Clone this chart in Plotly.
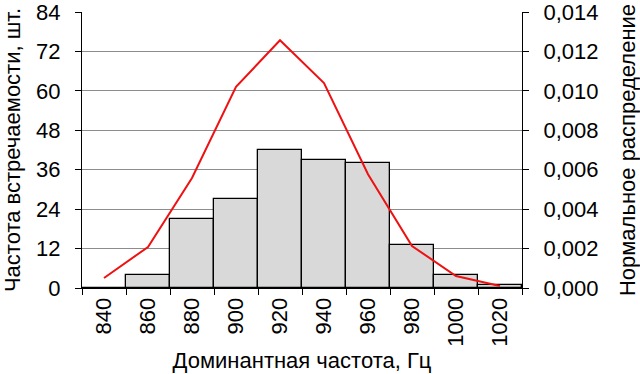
import plotly.graph_objects as go

categories = ["840", "860", "880", "900", "920", "940", "960", "980", "1000", "1020"]
counts = [0, 4, 21, 27, 42, 39, 38, 13, 4, 1]
normal_pdf = [0.00051, 0.00208, 0.00558, 0.0102, 0.01257, 0.0104, 0.00577, 0.00213, 0.00061, 0.0001]

FONT = "Liberation Sans, Arial, sans-serif"

fig = go.Figure()
fig.add_trace(go.Bar(
    x=categories, y=counts,
    marker=dict(color="#d9d9d9", line=dict(color="black", width=1.3)),
    width=1, showlegend=False,
))
fig.add_trace(go.Scatter(
    x=categories, y=normal_pdf, yaxis="y2", mode="lines",
    line=dict(color="#ee1111", width=2), showlegend=False,
))

fig.update_layout(
    width=640, height=374,
    margin=dict(l=82, r=118, t=12, b=86, autoexpand=False),
    paper_bgcolor="white", plot_bgcolor="white",
    font=dict(family=FONT, size=22, color="black"),
    separators=", ",
    bargap=0,
    xaxis=dict(
        type="category", tickson="boundaries", ticks="outside", ticklen=6,
        tickcolor="black", showline=True, linecolor="black", linewidth=1,
        tickangle=-90, showgrid=False, automargin=False, ticklabeloverflow="allow",
        title=dict(text="Доминантная частота, Гц", font=dict(size=22), standoff=6),
    ),
    yaxis=dict(
        range=[0, 84], dtick=12, tick0=0, ticks="outside", ticklen=6,
        tickcolor="black", showline=True, linecolor="black", linewidth=1,
        showgrid=True, gridcolor="#8c8c8c", gridwidth=1, zeroline=False,
        ticklabelstandoff=10, automargin=False, ticklabeloverflow="allow",
        title=dict(text="Частота встречаемости, шт.", font=dict(size=22), standoff=12),
    ),
    yaxis2=dict(
        overlaying="y", side="right", range=[0, 0.014], dtick=0.002, tick0=0,
        tickformat=".3f", ticks="outside", ticklen=6, tickcolor="black",
        showline=True, linecolor="black", linewidth=1, showgrid=False, zeroline=False,
        ticklabelstandoff=10, automargin=False, ticklabeloverflow="allow",
        title=dict(text="Нормальное распределение", font=dict(size=22), standoff=24),
    ),
)

fig.write_html("out.html", post_script="document.body.style.margin='0';",
               config={"displayModeBar": False})
